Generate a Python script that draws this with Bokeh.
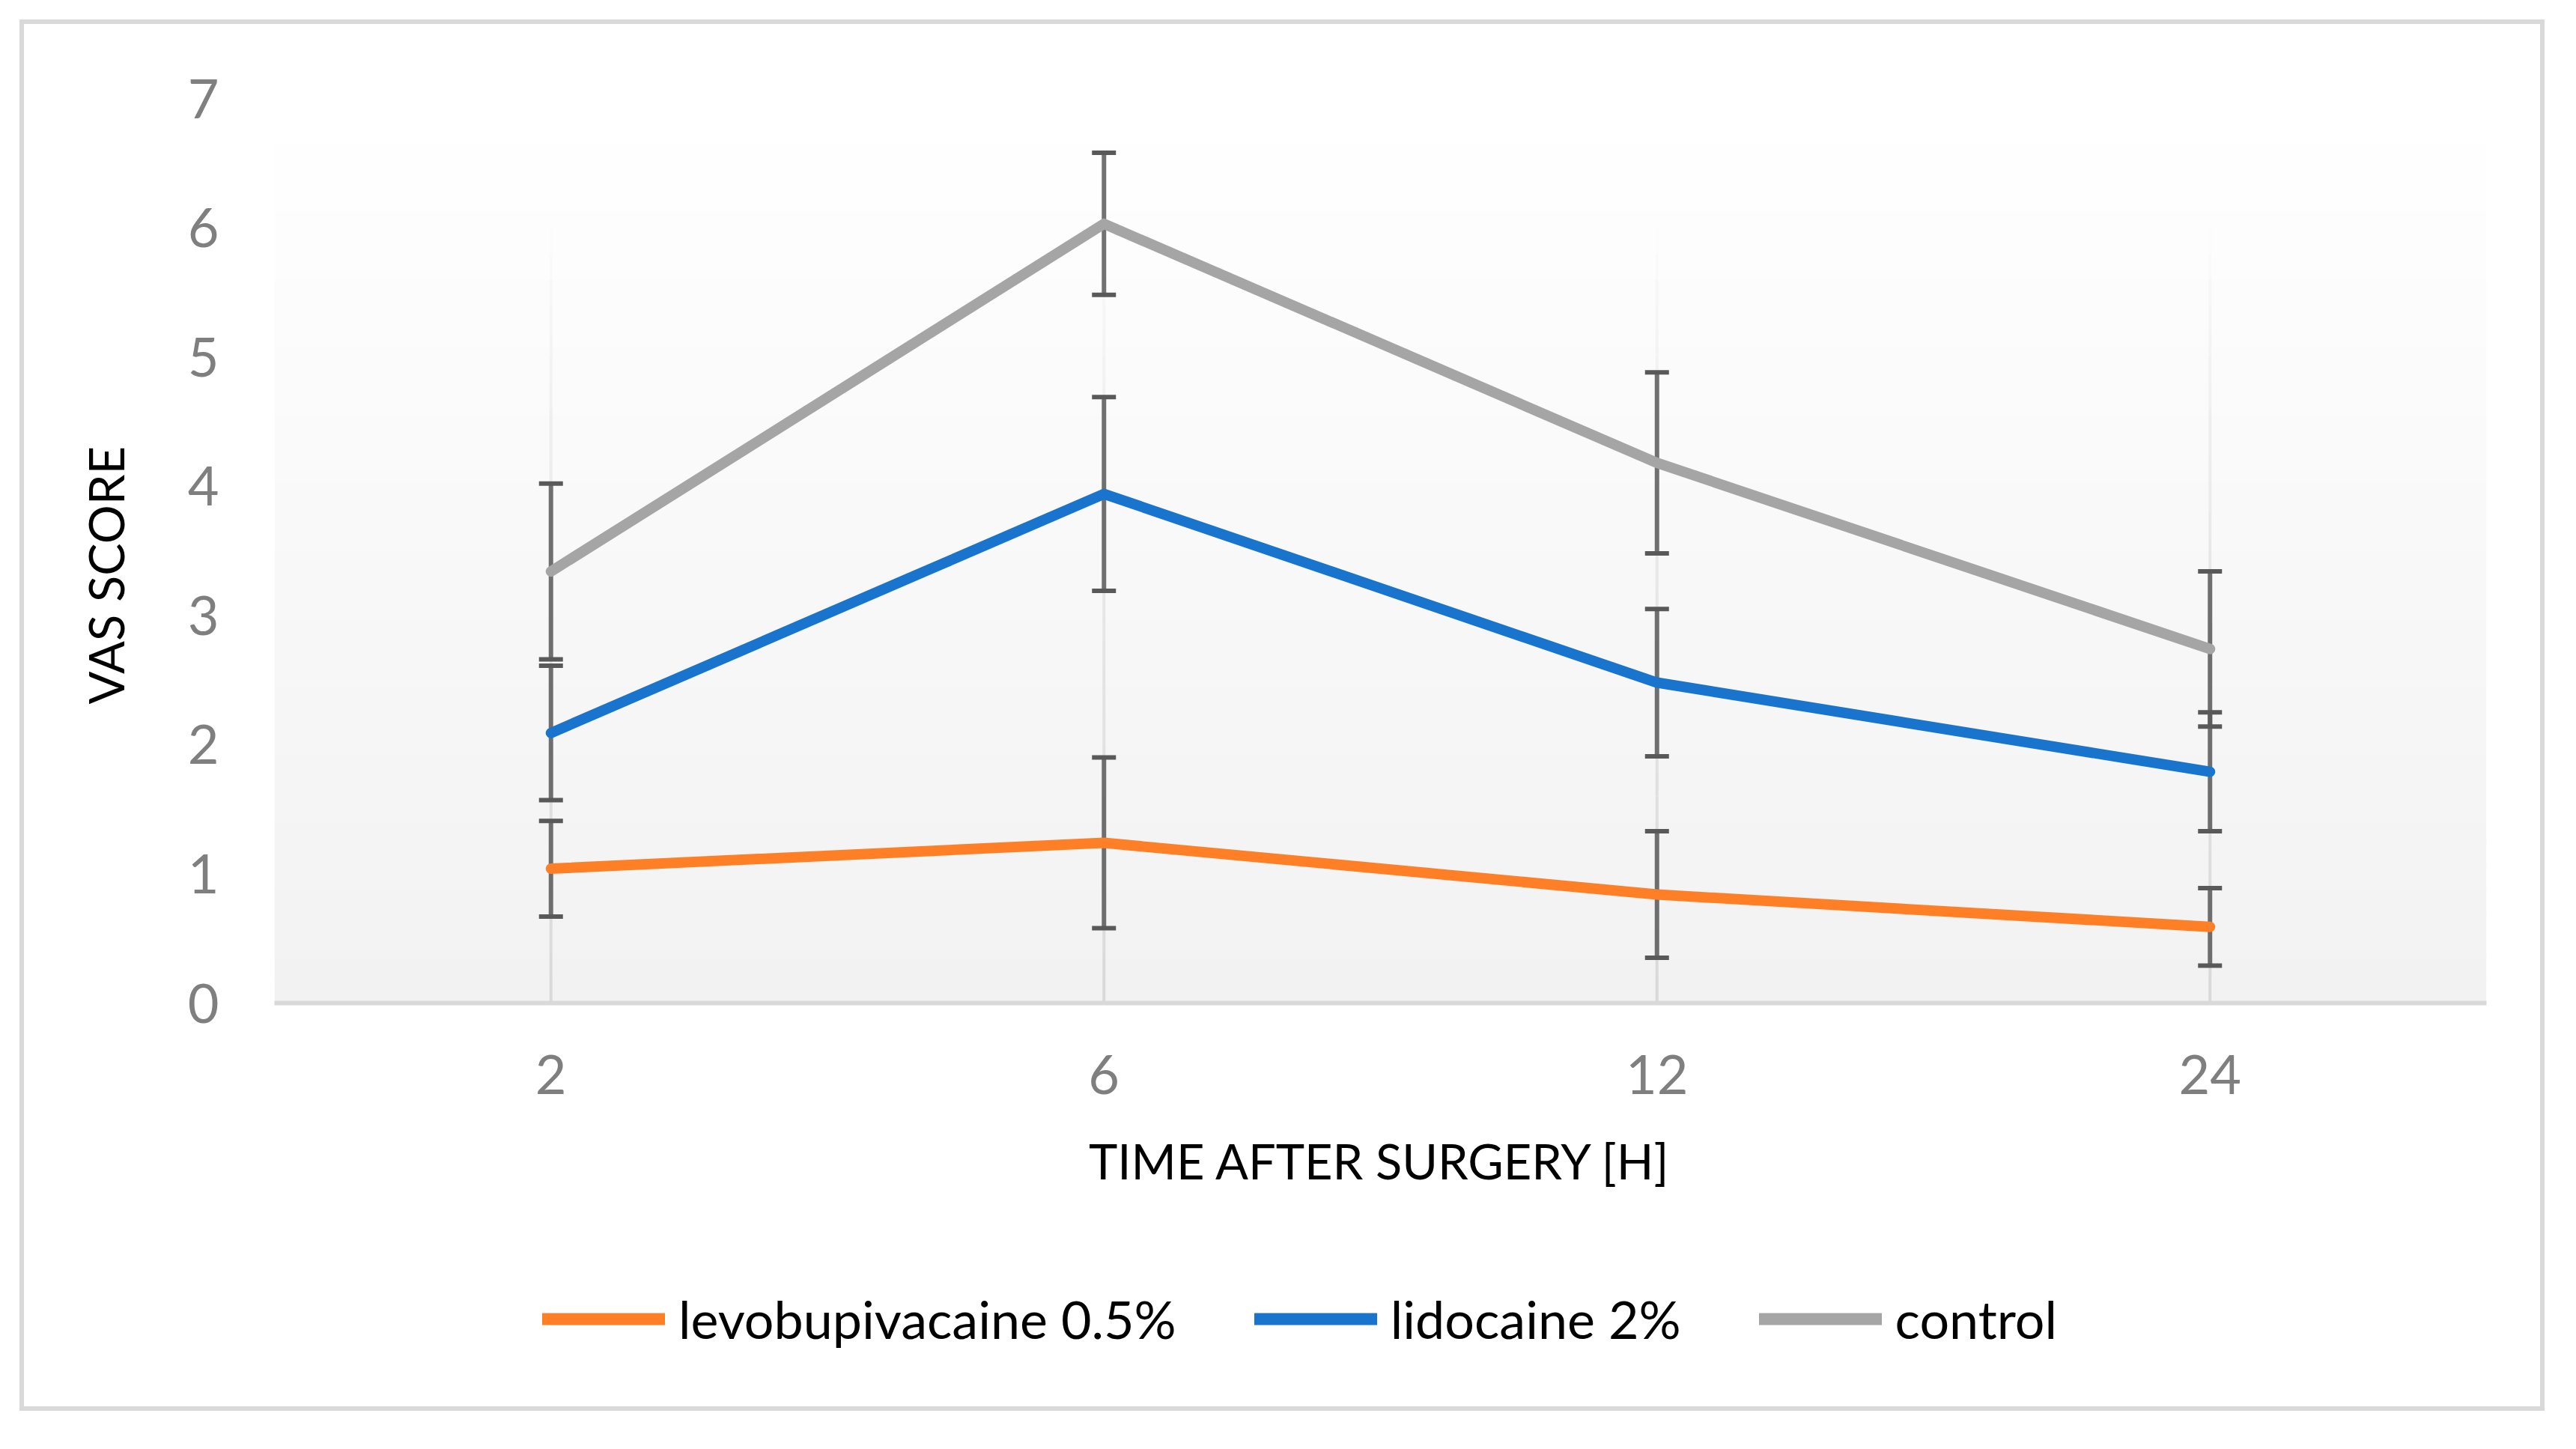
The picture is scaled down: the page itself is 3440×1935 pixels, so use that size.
from bokeh.plotting import figure
from bokeh.layouts import column
from bokeh.models import (ColumnDataSource, FactorRange, Range1d, FixedTicker, Whisker,
                          TeeHead, Legend, LegendItem, BoxAnnotation, Title)
from bokeh.embed import file_html
from bokeh.resources import INLINE

# ---- data ----
hours = ["2", "6", "12", "24"]
levo_mean = [1.04, 1.24, 0.84, 0.59]
levo_sd = [0.37, 0.66, 0.49, 0.30]
lido_mean = [2.09, 3.94, 2.48, 1.79]
lido_sd = [0.52, 0.75, 0.57, 0.46]
ctrl_mean = [3.34, 6.03, 4.18, 2.74]
ctrl_sd = [0.68, 0.55, 0.70, 0.60]
series_names = ["levobupivacaine 0.5%", "lidocaine 2%", "control"]
y_ticks = [0, 1, 2, 3, 4, 5, 6, 7]

colors = ["#FF7F27", "#1874CD", "#A5A5A5"]
FONT = "Lato"
YMAX = 7
LINE_W = 14

W, H_MAIN, H_LEG = 3360, 1600, 246
p = figure(x_range=FactorRange(factors=hours, range_padding=0), y_range=Range1d(0, YMAX),
           width=W, height=H_MAIN, output_backend="svg", toolbar_location=None,
           min_border_left=329, min_border_right=72, min_border_top=99, min_border_bottom=293,
           background_fill_color="white", border_fill_color="white", outline_line_color=None)

# plot-area gradient (white top -> light gray bottom)
n = 40
for i in range(n):
    t = (i + 0.5) / n
    c = int(round(242 + (255 - 242) * t))
    b = BoxAnnotation(bottom=YMAX * i / n, top=YMAX * (i + 1) / n + 0.01,
                      fill_color=(c, c, c), fill_alpha=1.0, line_alpha=0, level="image")
    p.add_layout(b)

# vertical grid lines fading upward
p.xgrid.grid_line_color = None
p.ygrid.grid_line_color = None
m = 30
gx0, gy0, gy1, ga = [], [], [], []
for h in hours:
    for i in range(m):
        gx0.append(h)
        gy0.append(6.0 * i / m)
        gy1.append(6.0 * (i + 1) / m)
        ga.append(max(0.0, 1.0 - (i + 0.5) / m) ** 0.8)
p.segment(x0=gx0, y0=gy0, x1=gx0, y1=gy1, line_color="#d9d9d9", line_width=4,
          line_alpha=ga, level="underlay")

# axes
p.yaxis.ticker = FixedTicker(ticks=y_ticks)
for ax in (p.xaxis[0], p.yaxis[0]):
    ax.major_tick_line_color = None
    ax.minor_tick_line_color = None
    ax.major_label_text_font = FONT
    ax.major_label_text_font_size = "72px"
    ax.major_label_text_color = "#7f7f7f"
    ax.axis_label_text_font = FONT
    ax.axis_label_text_font_size = "65px"
    ax.axis_label_text_color = "#000000"
    ax.axis_label_text_font_style = "normal"
p.yaxis.axis_line_color = None
p.xaxis.axis_line_color = "#d9d9d9"
p.xaxis.axis_line_width = 6
p.xaxis.axis_label = "TIME AFTER SURGERY [H]"
p.yaxis.major_label_standoff = 68
p.xaxis.major_label_standoff = 63
p.xaxis.axis_label_standoff = 47

# y-axis title (slightly below the frame centre, as in the reference)
ytitle = Title(text="VAS SCORE", align="left", offset=399, standoff=135,
               text_font=FONT, text_font_size="65px", text_font_style="normal",
               text_color="#000000")
p.add_layout(ytitle, "left")

means = [levo_mean, lido_mean, ctrl_mean]
sds = [levo_sd, lido_sd, ctrl_sd]
for mn, s, col in zip(means, sds, colors):
    src = ColumnDataSource(dict(x=hours, y=mn,
                                upper=[a + b for a, b in zip(mn, s)],
                                lower=[a - b for a, b in zip(mn, s)]))
    p.line("x", "y", source=src, line_color=col, line_width=LINE_W,
           line_cap="round", line_join="round")
    w = Whisker(base="x", upper="upper", lower="lower", source=src, dimension="height",
                line_color="#595959", line_width=6, line_alpha=0.85,
                upper_head=TeeHead(size=32, line_color="#595959", line_width=6),
                lower_head=TeeHead(size=32, line_color="#595959", line_width=6))
    p.add_layout(w)

# ---- legend strip below the chart ----
lf = figure(width=W, height=H_LEG, output_backend="svg", toolbar_location=None,
            x_range=Range1d(0, 1), y_range=Range1d(0, 1),
            min_border_left=0, min_border_right=0, min_border_top=0, min_border_bottom=0,
            background_fill_color="white", border_fill_color="white", outline_line_color=None)
lf.axis.visible = False
lf.grid.visible = False
leg_renderers = [lf.line(x=[-10, -9], y=[-10, -10], line_color=col, line_width=LINE_W + 2,
                         line_cap="round")
                 for col in colors]
legend = Legend(items=[LegendItem(label=nm, renderers=[r]) for nm, r in zip(series_names, leg_renderers)],
                orientation="horizontal", location=(358, 75),
                glyph_width=164, glyph_height=40, label_standoff=18, spacing=104,
                padding=0, margin=0, background_fill_alpha=0, border_line_alpha=0,
                label_text_font=FONT, label_text_font_size="70px", label_text_color="#000000")
lf.add_layout(legend, "center")

layout = column(p, lf, spacing=0, margin=(32, 0, 0, 32),
                styles={"outline": "6px solid #d9d9d9"})

open("out.html", "w").write(file_html(layout, INLINE))
